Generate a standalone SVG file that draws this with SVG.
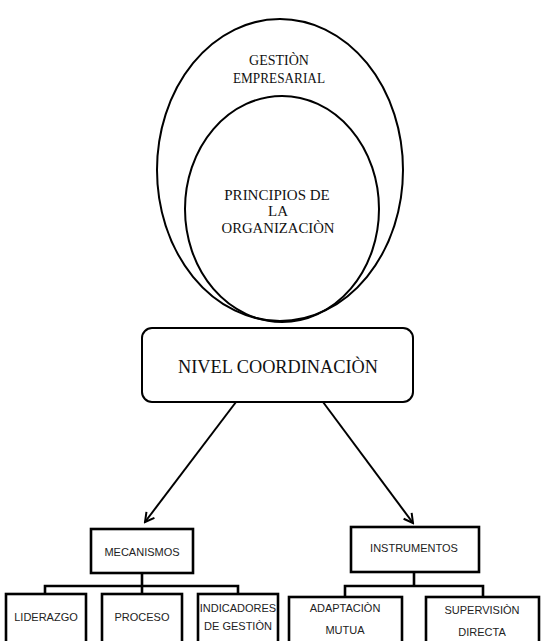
<svg xmlns="http://www.w3.org/2000/svg" width="557" height="641" viewBox="0 0 557 641">
<style>
.ell{fill:none;stroke:#000;stroke-width:2}
.serif{font-family:"Liberation Serif","Times New Roman",serif;fill:#111;text-anchor:middle}
.box{fill:#fff;stroke:#000;stroke-width:2.6}
.sans{font-family:"Liberation Sans",Arial,sans-serif;font-size:11px;fill:#222;text-anchor:middle}
.link{fill:none;stroke:#000;stroke-width:2.6}
.arrow{fill:none;stroke:#000;stroke-width:2}
</style>
<defs>
<marker id="ah" viewBox="0 0 12 12" refX="10" refY="6" markerWidth="12" markerHeight="12" markerUnits="userSpaceOnUse" orient="auto">
<path d="M1,1 L10,6 L1,11" fill="none" stroke="#000" stroke-width="2"/>
</marker>
</defs>
<rect width="557" height="641" fill="#fff"/>
<g id="gestion">
<ellipse class="ell" cx="280" cy="170" rx="123" ry="151"/>
<text class="serif" font-size="14" x="279" y="65">GESTIÒN</text>
<text class="serif" font-size="14" x="279" y="83" textLength="92" lengthAdjust="spacingAndGlyphs">EMPRESARIAL</text>
</g>
<g id="principios">
<ellipse class="ell" cx="282" cy="209" rx="97" ry="113"/>
<text class="serif" font-size="15" x="277" y="200">PRINCIPIOS DE</text>
<text class="serif" font-size="15" x="278" y="216">LA</text>
<text class="serif" font-size="15" x="278" y="233" textLength="113" lengthAdjust="spacingAndGlyphs">ORGANIZACIÒN</text>
</g>
<g id="nivel">
<rect x="142" y="328" width="271" height="74" rx="10" fill="#fff" stroke="#000" stroke-width="2"/>
<text class="serif" font-size="18" x="278" y="373" textLength="200" lengthAdjust="spacingAndGlyphs">NIVEL COORDINACIÒN</text>
</g>
<g id="connectors">
<line class="arrow" x1="236" y1="402" x2="145" y2="522" marker-end="url(#ah)"/>
<line class="arrow" x1="323" y1="402" x2="413" y2="523" marker-end="url(#ah)"/>
<polyline class="link" points="142,573 142,586"/>
<polyline class="link" points="45,594 45,586 238,586 238,594"/>
<line class="link" x1="142" y1="586" x2="142" y2="594"/>
<polyline class="link" points="414,572 414,586"/>
<polyline class="link" points="345,597 345,586 483,586 483,597"/>
</g>
<g id="mecanismos">
<rect class="box" x="91" y="529" width="102" height="44"/>
<text class="sans" x="142" y="556">MECANISMOS</text>
</g>
<g id="liderazgo">
<rect class="box" x="6" y="594" width="80" height="52"/>
<text class="sans" x="46" y="621">LIDERAZGO</text>
</g>
<g id="proceso">
<rect class="box" x="102" y="594" width="80" height="52"/>
<text class="sans" x="142" y="621">PROCESO</text>
</g>
<g id="indicadores">
<rect class="box" x="198" y="594" width="80" height="52"/>
<text class="sans" x="238" y="612">INDICADORES</text>
<text class="sans" x="238" y="630">DE GESTIÒN</text>
</g>
<g id="instrumentos">
<rect class="box" x="351" y="527" width="128" height="45"/>
<text class="sans" x="414" y="552">INSTRUMENTOS</text>
</g>
<g id="adaptacion">
<rect class="box" x="289" y="597" width="113" height="49"/>
<text class="sans" x="345" y="612">ADAPTACIÒN</text>
<text class="sans" x="345" y="634">MUTUA</text>
</g>
<g id="supervision">
<rect class="box" x="426" y="597" width="113" height="49"/>
<text class="sans" x="482" y="614">SUPERVISIÒN</text>
<text class="sans" x="482" y="636">DIRECTA</text>
</g>
</svg>
